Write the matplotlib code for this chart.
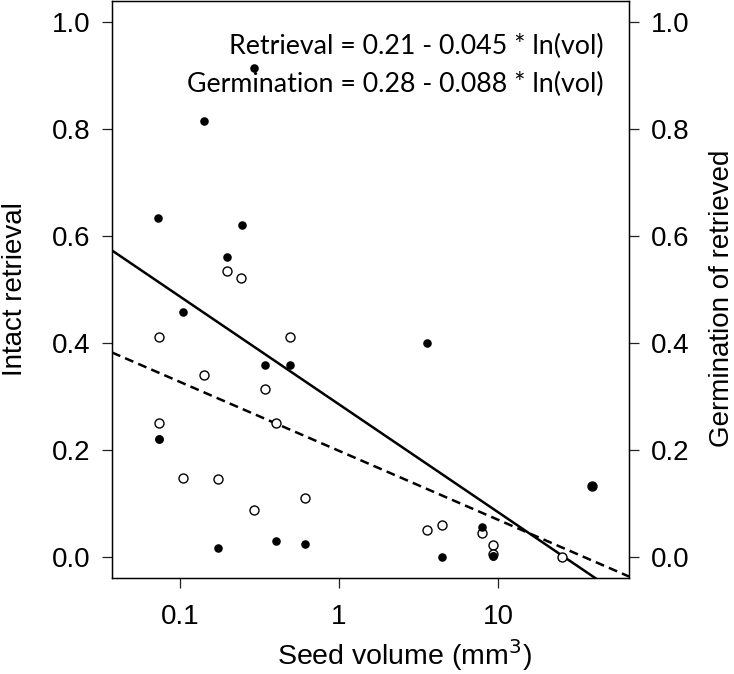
import numpy as np
import matplotlib
matplotlib.use("Agg")
import matplotlib.pyplot as plt

plt.rcParams['font.family'] = ['Liberation Sans', 'DejaVu Sans']

# seed volume (mm3) per species, retrieval (filled) and germination (open)
vol_ret = [0.073, 0.074, 0.074, 0.105, 0.141, 0.173, 0.198, 0.244, 0.293, 0.344,
           0.404, 0.492, 0.614, 3.58, 4.43, 7.97, 9.26, 9.26, 39.0]
retrieval = [0.634, 0.220, 0.220, 0.458, 0.816, 0.017, 0.561, 0.620, 0.914, 0.359,
             0.030, 0.359, 0.023, 0.400, 0.000, 0.055, 0.002, 0.002, 0.132]

vol_germ = [0.074, 0.074, 0.105, 0.142, 0.173, 0.198, 0.243, 0.293, 0.344, 0.404,
            0.492, 0.614, 3.58, 4.43, 7.97, 9.26, 9.26, 25.2, 39.0]
germination = [0.411, 0.250, 0.148, 0.340, 0.145, 0.535, 0.521, 0.087, 0.313, 0.250,
               0.411, 0.110, 0.050, 0.060, 0.045, 0.022, 0.005, 0.000, 0.132]

# fitted lines as drawn: y = a + b * ln(vol)
ret_a, ret_b = 0.198, -0.056
germ_a, germ_b = 0.285, -0.0876

xlim = (0.0373, 66.7)
ylim = (-0.04, 1.04)

fig = plt.figure(figsize=(7.34, 6.74), dpi=100)
ax = fig.add_axes([0.1526, 0.1424, 0.7044, 0.8561])

ax.scatter(vol_germ, germination, s=42, facecolor='white', edgecolor='black',
           linewidths=1.0, zorder=3)
ax.scatter(vol_ret, retrieval, s=38, color='black', zorder=4, linewidths=0)

xx = np.array(xlim)
ax.plot(xx, germ_a + germ_b * np.log(xx), color='black', lw=1.8, zorder=2)
ax.plot(xx, ret_a + ret_b * np.log(xx), color='black', lw=1.8, zorder=2,
        dashes=(3.6, 2.1))

ax.set_xscale('log')
ax.set_xlim(*xlim)
ax.set_ylim(*ylim)
ax.set_xticks([0.1, 1, 10])
ax.set_xticklabels(['0.1', '1', '10'])
ax.minorticks_off()
ax.set_yticks([0.0, 0.2, 0.4, 0.6, 0.8, 1.0])
ax.set_yticklabels(['0.0', '0.2', '0.4', '0.6', '0.8', '1.0'])
ax.tick_params(axis='both', length=7.5, width=0.9, labelsize=20, color='#222222')
ax.tick_params(axis='y', pad=8)
ax.tick_params(axis='x', pad=11)
for s in ax.spines.values():
    s.set_linewidth(1.0)

ax2 = ax.twinx()
ax2.set_ylim(*ylim)
ax2.set_yticks([0.0, 0.2, 0.4, 0.6, 0.8, 1.0])
ax2.set_yticklabels(['0.0', '0.2', '0.4', '0.6', '0.8', '1.0'])
ax2.tick_params(axis='y', length=7.5, width=0.9, labelsize=20, pad=8, color='#222222')

ax.set_xlabel('Seed volume (mm$^3$)', fontsize=20.5)
ax.xaxis.set_label_coords(0.565, -0.102)
ax.set_ylabel('Intact retrieval', fontsize=20)
ax.yaxis.set_label_coords(-0.162, 0.5)
ax2.set_ylabel('Germination of retrieved', fontsize=20, rotation=90)
ax2.yaxis.set_label_coords(1.155, 0.484)

ax.text(0.95, 0.922, 'Retrieval = 0.21 - 0.045 * ln(vol)', transform=ax.transAxes,
        ha='right', va='center', fontsize=19.3, family=['Lato', 'DejaVu Sans'])
ax.text(0.95, 0.856, 'Germination = 0.28 - 0.088 * ln(vol)', transform=ax.transAxes,
        ha='right', va='center', fontsize=19.3, family=['Lato', 'DejaVu Sans'])

fig.savefig('out.png', dpi=100)
